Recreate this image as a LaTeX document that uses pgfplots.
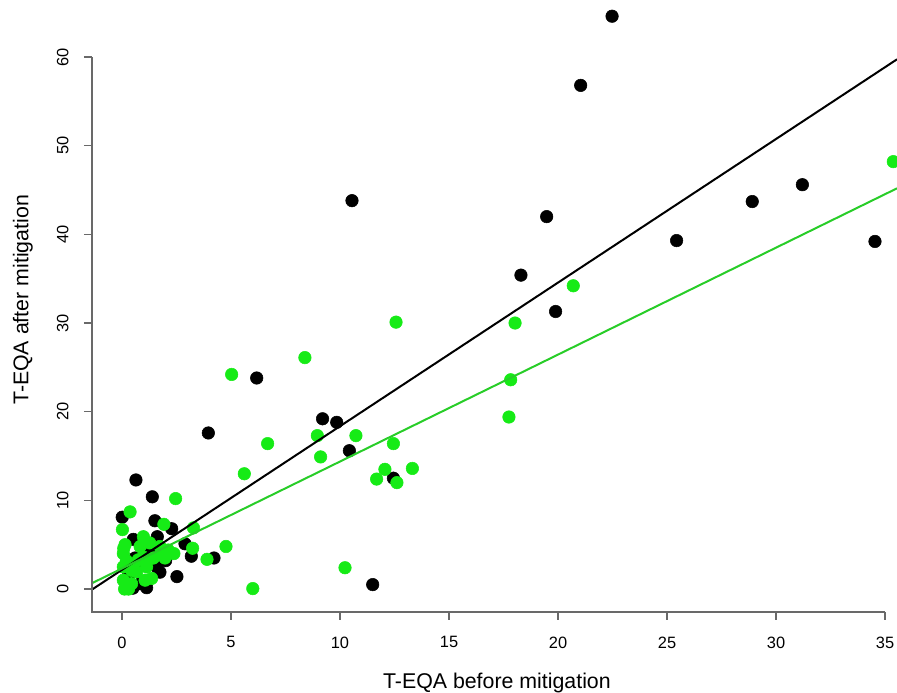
\documentclass[border=0pt]{standalone}
\usepackage{pgfplots}
\pgfplotsset{compat=1.18}
\usepackage{fontspec}
\setmainfont{Liberation Sans}
\definecolor{ptgreen}{RGB}{22,235,22}
\definecolor{lngreen}{RGB}{40,205,40}
\definecolor{axgray}{RGB}{105,105,105}

% before / after mitigation, black = first group, green = second group
\pgfplotstableread{
x y
22.48 64.6
21.04 56.8
25.44 39.3
28.91 43.7
31.21 45.6
34.54 39.2
19.48 42.0
18.30 35.4
19.89 31.3
10.55 43.8
9.20 19.2
9.85 18.8
10.43 15.6
12.45 12.5
11.50 0.5
6.18 23.8
3.96 17.6
0.64 12.3
1.39 10.4
0.01 8.1
1.51 7.7
2.28 6.8
1.62 5.9
0.52 5.6
2.89 5.1
3.18 3.7
4.22 3.5
2.52 1.4
1.13 0.15
0.50 0.1
0.83 0.6
1.59 2.5
1.74 1.9
0.60 3.5
0.30 1.5
0.20 2.8
1.00 3.0
1.30 4.2
2.00 3.2
}\blackpts

\pgfplotstableread{
x y
35.38 48.2
20.70 34.2
18.03 30.0
17.83 23.6
17.75 19.4
12.57 30.1
8.39 26.1
8.96 17.3
10.73 17.3
9.11 14.9
12.45 16.4
13.32 13.6
12.06 13.5
11.68 12.4
12.61 12.0
10.23 2.4
6.00 0.05
5.03 24.2
6.68 16.4
5.61 13.0
2.46 10.2
0.37 8.7
0.02 6.7
1.92 7.3
3.28 6.9
3.24 4.6
4.77 4.8
3.90 3.35
2.38 4.0
2.12 4.4
1.80 4.0
1.97 3.5
0.98 5.9
1.27 5.2
0.83 4.8
0.14 5.0
0.06 4.0
0.06 2.5
0.06 1.0
0.12 0.0
0.44 0.6
0.44 2.1
0.75 3.3
0.98 3.6
0.67 1.95
1.13 2.5
1.06 1.0
1.36 1.2
1.44 3.5
0.20 3.2
0.30 0.0
0.08 4.6
1.74 4.8
}\greenpts

\begin{document}
\begin{tikzpicture}
\begin{axis}[
    scale only axis,
    width=603.75pt, height=459pt,
    xmin=-1.376, xmax=35.55,
    ymin=-2.59, ymax=66.43,
    axis x line*=bottom, axis y line*=left,
    axis line style={draw=none},
    xtick={0,5,...,35}, ytick={0,10,...,60},
    tick align=outside,
    major tick length=6pt,
    tick style={axgray, line width=0.9pt},
    /pgf/number format/assume math mode=true,
    ticklabel style={font=\fontsize{12.3}{14}\selectfont},
    xticklabel style={yshift=-9pt},
    yticklabel style={xshift=-8pt, rotate=90, anchor=south},
    xlabel={T-EQA before mitigation},
    ylabel={T-EQA after mitigation},
    label style={font=\fontsize{16}{19}\selectfont},
    xlabel style={at={(axis description cs:0.503,-0.1242)}, anchor=base},
    ylabel style={at={(axis description cs:-0.0791,0.51)}, anchor=base},
    clip mode=individual,
  ]
  \addplot[only marks, mark=*, mark size=4.7pt, mark options={draw=black, fill=black}] table {\blackpts};
  \addplot[only marks, mark=*, mark size=4.7pt, mark options={draw=ptgreen, fill=ptgreen}] table {\greenpts};
  % fitted lines
  \addplot[black, line width=1.5pt] coordinates {(-1.376,-0.06) (35.55,59.74)};
  \addplot[lngreen, line width=1.5pt] coordinates {(-1.376,0.66) (35.55,45.19)};
  % R style axis lines, ending at last tick
  \draw[axgray, line width=0.9pt] (axis cs:-1.376,60) -- (axis cs:-1.376,-2.59) -- (axis cs:35,-2.59);
  \coordinate (bl) at (rel axis cs:0,0);
  \coordinate (tr) at (rel axis cs:1,1);
\end{axis}
\pgfresetboundingbox
\path (bl) ++(-69pt,-60.75pt) rectangle (tr);
\end{tikzpicture}
\end{document}
